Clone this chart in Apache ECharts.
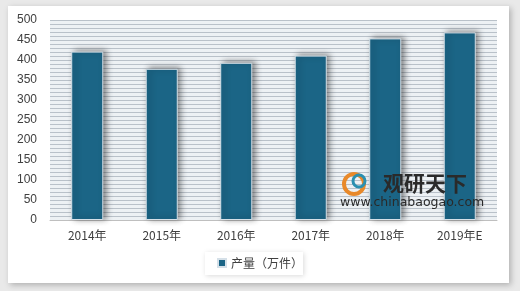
<!DOCTYPE html>
<html><head><meta charset="utf-8">
<script src="https://cdn.jsdelivr.net/npm/echarts@6/dist/echarts.min.js"></script>
<style>html,body{margin:0;padding:0;background:#e9e9e9;}#c{width:520px;height:291px;}</style>
</head><body><div id="c"></div>
<script>
var categories = ['2014年','2015年','2016年','2017年','2018年','2019年E'];
var values = [421, 378, 393, 411, 454, 469];
var seriesName = '产量（万件）';
var yTicks = {min:0, max:500, interval:50};

var chart = echarts.init(document.getElementById('c'));
chart.setOption({
  backgroundColor:'#e9e9e9',
  animation:false,
  graphic:[
    {type:'rect', z:-10, shape:{x:8,y:6,width:501,height:277}, style:{fill:'#ffffff', shadowBlur:6, shadowColor:'rgba(0,0,0,0.25)', shadowOffsetX:2, shadowOffsetY:2}},
    {type:'rect', z:-9, shape:{x:205,y:252,width:98,height:23}, style:{fill:'#ffffff', shadowBlur:5, shadowColor:'rgba(0,0,0,0.15)', shadowOffsetX:1, shadowOffsetY:1}},
    {type:'text', z:50, left:383, top:173, style:{text:'观研天下', fill:'#2a2a2a', font:'bold 21px "Noto Sans CJK SC"'}},
    {type:'text', z:50, left:340, top:196, style:{text:'www.chinabaogao.com', font:'12.5px "DejaVu Sans"', fill:'#2a2a2a'}},
    {type:'circle', z:50, shape:{cx:354, cy:184, r:10}, style:{fill:'none', stroke:'#e8892a', lineWidth:4}},
    {type:'circle', z:50, shape:{cx:359, cy:181, r:6}, style:{fill:'none', stroke:'#2a8fb0', lineWidth:3}}
  ],
  grid:{left:50, right:23, top:20, bottom:71, backgroundColor:'#edf1f4', show:true, borderWidth:0},
  legend:{bottom:17, left:'center', itemWidth:8, itemHeight:8, icon:'rect', textStyle:{fontSize:12, color:'#404040', fontFamily:'"Noto Sans CJK SC"'}},
  xAxis:{type:'category', data:categories, axisTick:{show:false}, axisLine:{lineStyle:{color:'#bfbfbf'}},
    axisLabel:{fontSize:12, color:'#404040', margin:9, fontFamily:'"Noto Sans CJK SC"'}},
  yAxis:{type:'value', min:yTicks.min, max:yTicks.max, interval:yTicks.interval,
    axisLine:{show:false}, axisTick:{show:false},
    axisLabel:{fontSize:12, color:'#404040', margin:13, fontFamily:'"Liberation Sans"'},
    splitLine:{lineStyle:{color:'#b9c1c9', width:1}},
    minorTick:{show:false, splitNumber:5},
    minorSplitLine:{show:true, lineStyle:{color:'#b9c1c9', width:1}}},
  series:[{name:seriesName, type:'bar', data:values, barWidth:'43%',
    itemStyle:{color:'#1b6586', borderColor:'#d5e0e8', borderWidth:1, shadowBlur:6, shadowColor:'rgba(0,0,0,0.45)', shadowOffsetX:3, shadowOffsetY:-1}}]
});
</script></body></html>
